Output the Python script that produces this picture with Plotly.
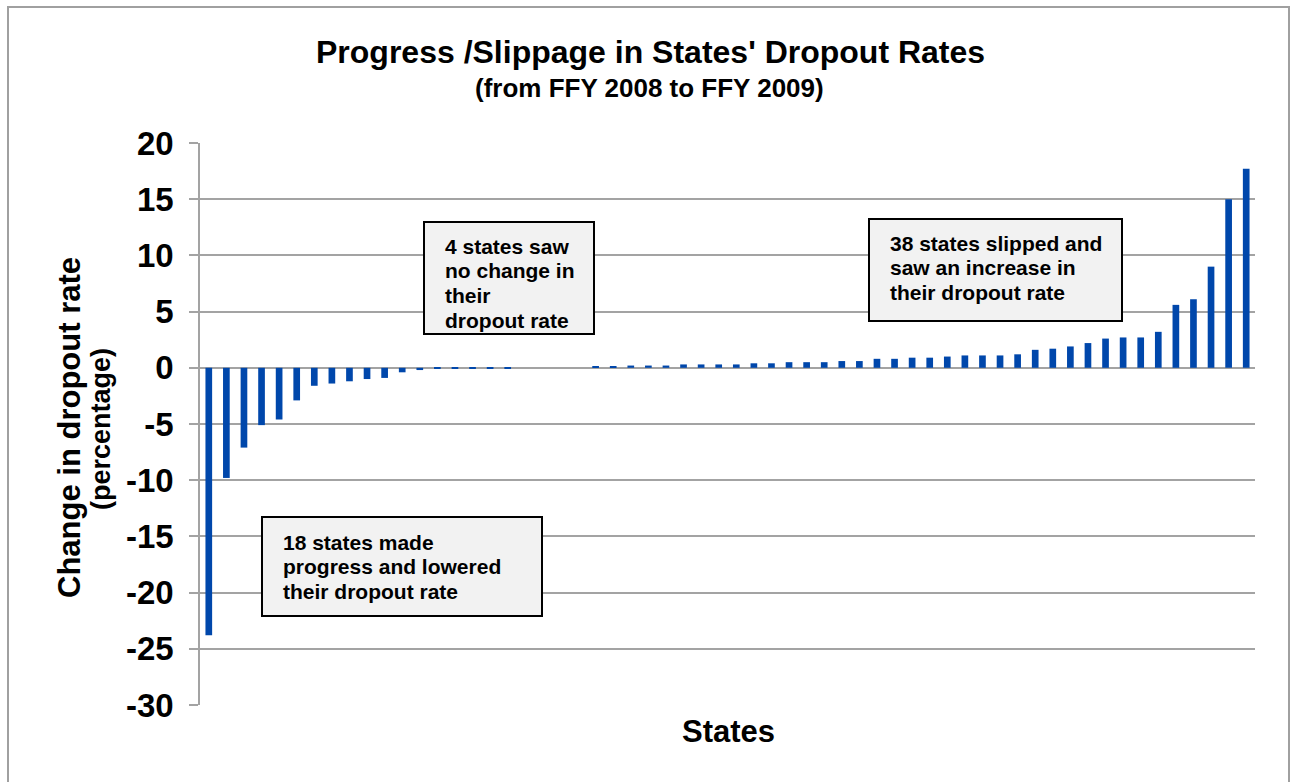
import plotly.graph_objects as go

# Change in dropout rate per state (FFY 2008 -> FFY 2009), sorted ascending
lowered = [-23.8, -9.8, -7.1, -5.1, -4.6, -2.9, -1.6, -1.4, -1.2, -1.0,
           -0.9, -0.4, -0.2, -0.1, -0.1, -0.1, -0.1, -0.1]
no_change = [0.0, 0.0, 0.0, 0.0]
increased = [0.1, 0.1, 0.2, 0.2, 0.2, 0.3, 0.3, 0.3, 0.3, 0.4,
             0.4, 0.5, 0.5, 0.5, 0.6, 0.6, 0.8, 0.8, 0.9, 0.9,
             1.0, 1.1, 1.1, 1.1, 1.2, 1.6, 1.7, 1.9, 2.2, 2.6,
             2.7, 2.7, 3.2, 5.6, 6.1, 9.0, 15.0, 17.7]

changes = lowered + no_change + increased
states = list(range(1, len(changes) + 1))

y_ticks = [20, 15, 10, 5, 0, -5, -10, -15, -20, -25, -30]
y_tick_text = [str(v) for v in y_ticks]

box_lowered = ["18 states made", "progress and lowered", "their dropout rate"]
box_same = ["4 states saw", "no change in", "their", "dropout rate"]
box_raised = ["38 states slipped and", "saw an increase in", "their dropout rate"]

W, H = 1291, 782
L, R, T, B = 200, 36, 143, 77
PW, PH = W - L - R, H - T - B


def px_x(x):
    return (x - L) / PW


def px_y(y):
    return (H - B - y) / PH


FONT = "Liberation Sans, Arial, sans-serif"
GRID = "#a3a3a3"
BAR = "#0047ab"

fig = go.Figure()
fig.add_trace(go.Bar(
    x=states, y=changes, width=0.38,
    marker=dict(color=BAR, line=dict(width=0)),
    hoverinfo="y",
))

fig.update_layout(
    width=W, height=H,
    margin=dict(l=L, r=R, t=T, b=B),
    paper_bgcolor="white", plot_bgcolor="white",
    showlegend=False,
    font=dict(family=FONT, color="black"),
    xaxis=dict(range=[0.5, len(states) + 0.5], showticklabels=False,
               showgrid=False, zeroline=False, showline=False, ticks=""),
    yaxis=dict(range=[-30, 20], tickvals=y_ticks, ticktext=y_tick_text,
               showgrid=True, gridcolor=GRID, gridwidth=1.5, zeroline=True,
               zerolinecolor=GRID, zerolinewidth=1.5,
               showline=True, linecolor=GRID, linewidth=1.5,
               ticks="outside", ticklen=9, tickcolor=GRID, tickwidth=1.5,
               ticklabelstandoff=9,
               tickfont=dict(family=FONT, size=33, weight="bold")),
)

shapes = [
    # outer chart frame
    dict(type="rect", xref="paper", yref="paper",
         x0=px_x(8), x1=px_x(1289), y0=px_y(800), y1=px_y(7),
         line=dict(color="#a0a0a0", width=2), fillcolor="rgba(0,0,0,0)",
         layer="below"),
]


def label(text, x, y, size, angle=0):
    return dict(text=text, xref="paper", yref="paper", x=px_x(x), y=px_y(y),
                xanchor="center", yanchor="middle", showarrow=False,
                textangle=angle,
                font=dict(family=FONT, size=size, weight="bold"))


annotations = [
    label("Progress /Slippage in States' Dropout Rates", 650, 52, 32),
    label("(from FFY 2008 to FFY 2009)", 649, 88, 26),
    label("States", 728, 731, 31),
    label("Change in dropout rate", 69, 428, 31, -90),
    label("(percentage)", 101, 429, 27, -90),
]

boxes = [
    ((262, 517, 542, 616), 542, box_lowered),
    ((424, 222, 594, 334), 246, box_same),
    ((869, 219, 1122, 321), 243, box_raised),
]

for (x0, y0, x1, y1), first_y, lines in boxes:
    shapes.append(dict(type="rect", xref="paper", yref="paper",
                       x0=px_x(x0), x1=px_x(x1), y0=px_y(y1), y1=px_y(y0),
                       line=dict(color="black", width=2), fillcolor="#f2f2f2",
                       layer="above"))
    for k, line in enumerate(lines):
        annotations.append(dict(text=line, xref="paper", yref="paper",
                                x=px_x(x0 + 19), y=px_y(first_y + 24.8 * k),
                                xanchor="left", yanchor="middle", align="left",
                                showarrow=False,
                                font=dict(family=FONT, size=21, weight="bold")))

fig.update_layout(shapes=shapes, annotations=annotations)

fig.write_html("out.html")
